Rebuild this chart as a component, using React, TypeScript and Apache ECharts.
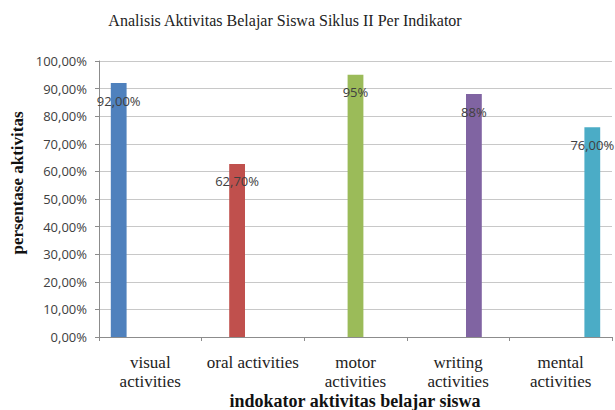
import React, { useEffect, useRef } from 'react';
import * as echarts from 'echarts';

const titleText = 'Analisis Aktivitas Belajar Siswa Siklus II Per Indikator';
const yAxisTitle = 'persentase aktivitas';
const xAxisTitle = 'indokator aktivitas belajar siswa';
const categories = ['visual\nactivities', 'oral activities', 'motor\nactivities', 'writing\nactivities', 'mental\nactivities'];
const values = [92, 62.7, 95, 88, 76];
const valueLabels = ['92,00%', '62,70%', '95%', '88%', '76,00%'];
const colors = ['#4F81BD', '#C0504D', '#9BBB59', '#8064A2', '#4BACC6'];

const SERIF = '"Liberation Serif", "DejaVu Serif", serif';
const SANS = '"Open Sans", "Liberation Sans", sans-serif';

export default function App() {
  const ref = useRef<HTMLDivElement>(null);
  useEffect(() => {
    if (!ref.current) return;
    const chart = echarts.init(ref.current, null, { renderer: 'svg' });
    const series = categories.map((_, i) => ({
      type: 'bar',
      name: 'S' + i,
      data: categories.map((__, j) => (j === i ? values[i] : null)),
      barGap: '0%',
      barCategoryGap: '23%',
      itemStyle: { color: colors[i] },
      label: {
        show: true,
        position: 'insideTop',
        distance: 11,
        formatter: () => valueLabels[i],
        color: '#404040',
        fontFamily: SANS,
        fontSize: 13,
      },
    }));
    chart.setOption({
      animation: false,
      grid: { left: 99, right: 3, top: 61, bottom: 73, containLabel: false },
      xAxis: {
        type: 'category',
        data: categories,
        axisLine: { lineStyle: { color: '#8c8c8c' } },
        axisTick: { show: true, length: 4, lineStyle: { color: '#8c8c8c' } },
        axisLabel: {
          interval: 0,
          margin: 16,
          fontFamily: SERIF,
          fontSize: 17,
          lineHeight: 19,
          color: '#222',
        },
      },
      yAxis: {
        type: 'value',
        min: 0,
        max: 100,
        interval: 10,
        axisLine: { show: true, lineStyle: { color: '#8c8c8c' } },
        axisTick: { show: true, length: 4, lineStyle: { color: '#8c8c8c' } },
        splitLine: { lineStyle: { color: '#c8c8c8' } },
        axisLabel: {
          margin: 12,
          fontFamily: SANS,
          fontSize: 13,
          color: '#404040',
          formatter: (v: number) => v.toFixed(2).replace('.', ',') + '%',
        },
      },
      series,
      graphic: [
        {
          type: 'text',
          x: 285,
          y: 20,
          style: {
            text: titleText,
            fontFamily: SERIF,
            fontSize: 16,
            fill: '#222',
            align: 'center',
            verticalAlign: 'middle',
          },
        },
        {
          type: 'text',
          x: 17,
          y: 183,
          rotation: Math.PI / 2,
          style: {
            text: yAxisTitle,
            fontFamily: SERIF,
            fontSize: 17,
            fontWeight: 'bold',
            fill: '#111',
            align: 'center',
            verticalAlign: 'middle',
          },
        },
        {
          type: 'text',
          x: 355,
          y: 401,
          style: {
            text: xAxisTitle,
            fontFamily: SERIF,
            fontSize: 18,
            lineHeight: 16,
            fontWeight: 'bold',
            fill: '#111',
            align: 'center',
            verticalAlign: 'middle',
          },
        },
      ],
    });
    return () => chart.dispose();
  }, []);
  return <div ref={ref} style={{ position: 'absolute', left: 0, top: 0, width: 615, height: 410 }} />;
}
